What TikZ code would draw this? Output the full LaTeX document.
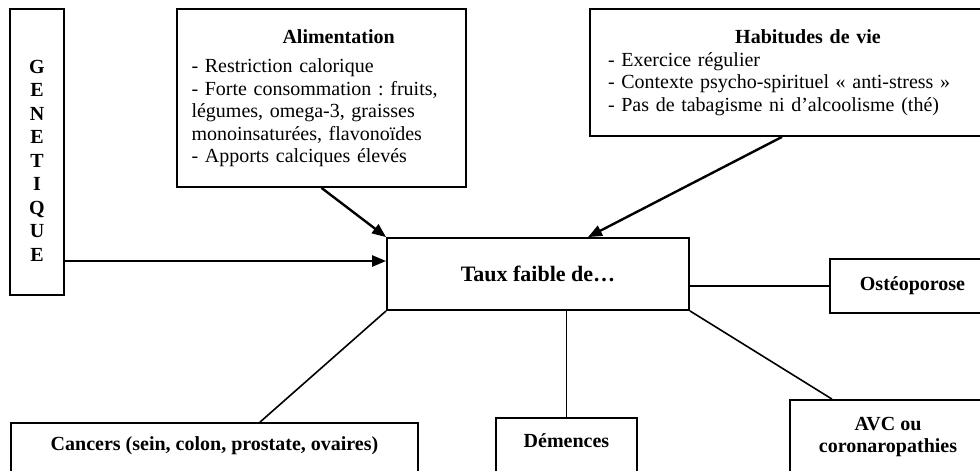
\documentclass[tikz,border=0pt]{standalone}
\usepackage{fontspec}
\setmainfont{Liberation Serif}
\usetikzlibrary{arrows.meta,positioning,calc}
\frenchspacing

\begin{document}
\begin{tikzpicture}[
    x=1pt, y=-1pt,
    >={Triangle[length=14pt, width=11pt]},
    box/.style={draw=black, line width=1.8pt, fill=white, inner sep=0pt,
                font=\fontsize{20}{22.5}\selectfont},
    head/.style={box, font=\fontsize{20}{22.5}\selectfont\bfseries, align=center},
    link/.style={line width=2.4pt, ->},
    tie/.style={line width=1.6pt},
]
\useasboundingbox[fill=white] (0,0) rectangle (980,471);

% causes
\node[head, minimum width=54, minimum height=286,
      font=\fontsize{20}{23.5}\selectfont\bfseries] (gen) at (37,152)
      {\rule{0pt}{30pt}G\\E\\N\\E\\T\\I\\Q\\U\\E};
\node[box, minimum width=289, minimum height=178, text width=260, align=left] (alim) at (321.5,98)
      {\hspace*{91pt}\textbf{Alimentation}\\[7pt]
       - Restriction calorique\\
       - Forte consommation : fruits,\\
       légumes, omega-3, graisses\\
       monoinsaturées, flavonoïdes\\
       - Apports calciques élevés};
\node[box, minimum width=436, minimum height=127, text width=400, align=left] (hab) at (808,72.5)
      {\makebox[\linewidth][c]{\textbf{Habitudes de vie}}\\
       - Exercice régulier\\
       - Contexte psycho-spirituel « anti-stress »\\
       - Pas de tabagisme ni d’alcoolisme (thé)};

% centre
\node[head, minimum width=302, minimum height=72,
      font=\fontsize{22}{24}\selectfont\bfseries] (taux) at (538,274) {Taux faible de…};
\coordinate (tauxin) at ([yshift=13pt]taux.west);
\draw[link] (gen.east |- tauxin) -- (tauxin);
\draw[link] (alim.south) -- (taux.north west);
\draw[link] ([xshift=-26pt]hab.south) -- ([xshift=50pt]taux.north);

% effects
\node[head, minimum width=165, minimum height=54] (ost) at (912.5,286) {Ostéoporose};
\node[head, minimum width=407, minimum height=52, text depth=10pt] (canc) at (214.5,449) {Cancers (sein, colon, prostate, ovaires)};
\node[head, minimum width=141, minimum height=56, text depth=10pt] (dem) at (566.5,446) {Démences};
\node[head, minimum width=196, minimum height=74] (avc) at (888,437) {AVC ou\\coronaropathies};
\draw[tie] (ost.west) -- (ost.west -| taux.east);
\draw[tie] (taux.south west) -- ([xshift=45.5pt]canc.north);
\draw[tie] (dem.north) -- (dem.north |- taux.south);
\draw[tie] (taux.south east) -- ([xshift=-56pt]avc.north);
\end{tikzpicture}
\end{document}
